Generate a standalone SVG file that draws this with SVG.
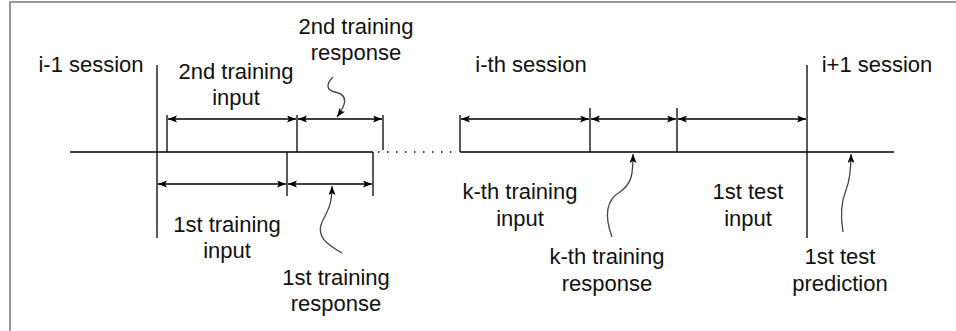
<svg xmlns="http://www.w3.org/2000/svg" width="956" height="331" viewBox="0 0 956 331">
<style>
text{font-family:"Liberation Sans",Arial,sans-serif;font-size:22px;fill:#111;text-anchor:middle}
.ln{stroke:#000;stroke-width:1.3;fill:none}
.dim{stroke:#000;stroke-width:1.3;fill:none;marker-start:url(#ah);marker-end:url(#ah)}
.sq{stroke:#444;stroke-width:1.3;fill:none;marker-end:url(#ah)}
.dot{stroke:#000;stroke-width:1.3;stroke-dasharray:1.5 7.5;fill:none}
</style>
<defs>
<marker id="ah" markerUnits="userSpaceOnUse" markerWidth="10" markerHeight="8" refX="9" refY="3.5" orient="auto-start-reverse">
<path d="M0,0 L9,3.5 L0,7 L2,3.5 z" fill="#000"/>
</marker>
</defs>
<rect width="956" height="331" fill="#fff"/>
<path d="M10,331 V2 H956" stroke="#777" stroke-width="1.5" fill="none"/>
<g id="connectors">
<path class="ln" d="M70,152 H373"/>
<path class="dot" d="M378,152 H458"/>
<path class="ln" d="M460,152 H894"/>
<path class="ln" d="M157,65 V238"/>
<path class="ln" d="M807,65 V238"/>
<path class="ln" d="M167,115 V152"/>
<path class="ln" d="M297,115 V152"/>
<path class="ln" d="M383,115 V150"/>
<path class="ln" d="M287,152 V196"/>
<path class="ln" d="M373,152 V196"/>
<path class="ln" d="M460,115 V152"/>
<path class="ln" d="M590,108 V152"/>
<path class="ln" d="M677,108 V152"/>
<path class="dim" d="M168,119 H296"/>
<path class="dim" d="M298,119 H382"/>
<path class="dim" d="M461,119 H589"/>
<path class="dim" d="M591,119 H676"/>
<path class="dim" d="M678,119 H806"/>
<path class="dim" d="M158,184 H286"/>
<path class="dim" d="M288,184 H372"/>
<path class="sq" d="M333,77 C326,84 326,90 335,92 C350,95 345,106 337,117"/>
<path class="sq" d="M342,253 C326,244 316,236 322,222 C328,210 332,205 332,186"/>
<path class="sq" d="M612,237 C604,215 606,200 620,192 C632,183 633,175 633,154"/>
<path class="sq" d="M843,232 C840,215 842,200 846,190 C850,180 851,170 851,154"/>
</g>
<g id="i-1-session"><text x="91" y="72">i-1 session</text></g>
<g id="i-th-session"><text x="531" y="72">i-th session</text></g>
<g id="i+1-session"><text x="877" y="72">i+1 session</text></g>
<g id="2nd-training-input"><text x="236" y="79">2nd training</text><text x="236" y="105">input</text></g>
<g id="2nd-training-response"><text x="356" y="34">2nd training</text><text x="356" y="60">response</text></g>
<g id="1st-training-input"><text x="227" y="232">1st training</text><text x="227" y="258">input</text></g>
<g id="1st-training-response"><text x="336" y="285">1st training</text><text x="336" y="311">response</text></g>
<g id="k-th-training-input"><text x="520" y="199">k-th training</text><text x="520" y="226">input</text></g>
<g id="k-th-training-response"><text x="607" y="264">k-th training</text><text x="607" y="291">response</text></g>
<g id="1st-test-input"><text x="748" y="199">1st test</text><text x="748" y="226">input</text></g>
<g id="1st-test-prediction"><text x="840" y="264">1st test</text><text x="840" y="291">prediction</text></g>
</svg>
